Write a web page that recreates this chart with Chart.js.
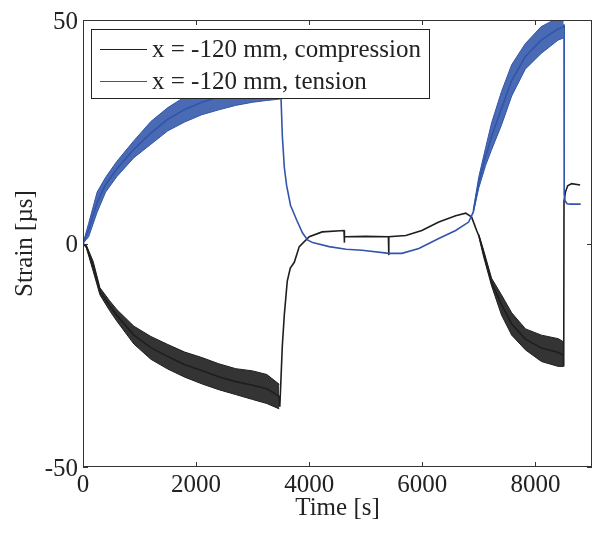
<!DOCTYPE html>
<html><head><meta charset="utf-8">
<script src="https://cdn.jsdelivr.net/npm/chart.js@4.4.0/dist/chart.umd.min.js"></script>
<style>html,body{margin:0;padding:0;background:#fff}#wrap{width:596px;height:534px}</style>
</head><body><div id="wrap"><canvas id="c" width="596" height="534"></canvas></div>
<script>
// ---- data ----
const xTicks = [0, 2000, 4000, 6000, 8000];
const yTicks = [-50, 0, 50];
const xTitle = 'Time [s]';
const yTitle = 'Strain [µs]';
const seriesLabels = ['x = -120 mm, compression', 'x = -120 mm, tension'];

// compression (black) trace
const compT = [0,60,180,300,470,600,900,1200,1500,1800,2100,2400,2700,3000,3250,3470,3480,3490,3524,3560,3612,3665,3736,3824,4000,4229,4615,4620,4625,5000,5400,5405,5410,5709,5991,6291,6590,6767,6872,6960,7000,7084,7225,7400,7580,7824,8106,8405,8495,8500,8505,8530,8570,8640,8790];
const compV = [0,-0.7,-5.1,-10.7,-13.9,-16.1,-20.5,-23.3,-25.3,-27.1,-28.4,-29.8,-30.9,-31.7,-32.5,-34.2,-36.5,-33.5,-23,-15.9,-8.4,-5.5,-4.2,-0.7,1.5,2.6,2.9,0.2,1.5,1.6,1.5,-2.6,1.5,1.8,2.9,4.8,6.2,6.8,5.9,2.9,1.7,-2.2,-8.7,-13.7,-18,-21.4,-23.4,-24.4,-25,-27.5,9.5,11.5,12.9,13.4,13.1];
// compression noise band (envelopes)
const compBand1T = [0,60,180,300,470,600,900,1200,1500,1800,2100,2400,2700,3000,3250,3470];
const compBand1Hi = [0,-0.4,-4,-9.9,-12.8,-14.8,-18.5,-20.8,-22.6,-24.3,-25.5,-26.9,-28,-28.5,-29.3,-31.5];
const compBand1Lo = [0,-1,-6.2,-11.5,-15,-17.4,-22.5,-25.9,-28.1,-29.9,-31.4,-32.7,-33.8,-34.9,-35.8,-37];
const compBand2T = [7000,7084,7225,7400,7580,7824,8106,8405,8495];
const compBand2Hi = [2,-1.5,-7.8,-11.5,-15.5,-19.1,-20.5,-21.3,-22];
const compBand2Lo = [1.5,-3,-9.5,-16,-20.5,-23.8,-26.4,-27.5,-27.5];

// tension (blue) trace
const tensT = [0,100,250,400,600,900,1200,1500,1800,2100,2400,2700,3000,3250,3480,3500,3525,3560,3600,3670,3780,3880,3970,4060,4352,4652,4934,5410,5639,5938,6291,6590,6819,6900,7000,7120,7225,7400,7580,7820,8100,8400,8500,8505,8508,8525,8560,8620,8800];
const tensV = [0,3,9.2,13.2,16.7,21.1,24.7,27.8,30,31.6,32.8,33.8,34.5,35,35.2,33,24,17,13,8.5,5.2,2.4,0.8,0.2,-0.7,-1.3,-1.5,-2.2,-2.2,-1.1,1.1,2.9,4.8,7,13.8,19.5,24,30.2,36.5,41.8,45.5,48,48.5,49,11,9.5,8.9,8.8,8.8];
const tensBand1T = [0,100,250,400,600,900,1200,1500,1800,2100,2400,2700,3000,3250,3480];
const tensBand1Hi = [0,4.5,11.5,14.8,18.4,23,27.3,30.4,32.8,34.5,35.8,36.8,37.5,38,38];
const tensBand1Lo = [0,1.5,7,11.5,15,19.2,22.2,25.2,27.2,28.8,29.9,30.9,31.6,32,32.3];
const tensBand2T = [6900,7000,7120,7225,7400,7580,7820,8100,8400,8500];
const tensBand2Hi = [7.5,15,21.5,27,34,40,44.7,48.5,50.5,51];
const tensBand2Lo = [6.8,12.5,17.5,21,26.5,33,39,42.5,45.5,46];

// ---- styling ----
const BLACK = '#1e1e1e';
const BLUE = '#3155aa';
const BLACK_FILL = 'rgba(30,30,30,0.9)';
const BLUE_FILL = 'rgba(49,85,170,0.88)';
const FONT = 'Liberation Serif';
const TEXT = '#222';

const pts = (t, v) => t.map((x, i) => ({x, y: v[i]}));

function band(t, lo, hi, col, fillCol, ord) {
  return [
    {label: '_', data: pts(t, lo), borderColor: col, borderWidth: 1, pointRadius: 0, fill: false, order: ord, tension: 0},
    {label: '_', data: pts(t, hi), borderColor: col, borderWidth: 1, pointRadius: 0, fill: '-1', backgroundColor: fillCol, order: ord, tension: 0}
  ];
}

const datasets = [
  ...band(compBand1T, compBand1Lo, compBand1Hi, BLACK, BLACK_FILL, 4),
  ...band(compBand2T, compBand2Lo, compBand2Hi, BLACK, BLACK_FILL, 4),
  {label: seriesLabels[0], data: pts(compT, compV), borderColor: BLACK, borderWidth: 1.6, pointRadius: 0, fill: false, order: 3, tension: 0},
  ...band(tensBand1T, tensBand1Lo, tensBand1Hi, BLUE, BLUE_FILL, 2),
  ...band(tensBand2T, tensBand2Lo, tensBand2Hi, BLUE, BLUE_FILL, 2),
  {label: seriesLabels[1], data: pts(tensT, tensV), borderColor: BLUE, borderWidth: 1.6, pointRadius: 0, fill: false, order: 1, tension: 0}
];

const framePlugin = {
  id: 'frame',
  afterDatasetsDraw(chart) {
    const ctx = chart.ctx, a = chart.chartArea;
    const xs = chart.scales.x, ys = chart.scales.y;
    ctx.save();
    ctx.strokeStyle = '#333';
    ctx.lineWidth = 1;
    ctx.strokeRect(Math.round(a.left) + 0.5, Math.round(a.top) + 0.5, Math.round(a.right - a.left) - 1, Math.round(a.bottom - a.top) - 1);
    const L = 5;
    ctx.beginPath();
    xs.ticks.forEach(tk => {
      const px = Math.round(xs.getPixelForValue(tk.value)) + 0.5;
      ctx.moveTo(px, a.bottom); ctx.lineTo(px, a.bottom - L);
      ctx.moveTo(px, a.top); ctx.lineTo(px, a.top + L);
    });
    ys.ticks.forEach(tk => {
      const py = Math.round(ys.getPixelForValue(tk.value)) + 0.5;
      ctx.moveTo(a.left, py); ctx.lineTo(a.left + L, py);
      ctx.moveTo(a.right, py); ctx.lineTo(a.right - L, py);
    });
    ctx.stroke();

    // legend box
    const bx = a.left + 8, by = a.top + 9, bw = 338, bh = 69;
    ctx.fillStyle = '#fff';
    ctx.fillRect(bx, by, bw, bh);
    ctx.strokeStyle = '#222';
    ctx.strokeRect(bx + 0.5, by + 0.5, bw, bh);
    const rows = [{c: BLACK, t: seriesLabels[0], y: by + 20}, {c: BLUE, t: seriesLabels[1], y: by + 52}];
    ctx.font = '25px "' + FONT + '"';
    ctx.textBaseline = 'middle';
    ctx.textAlign = 'left';
    rows.forEach(r => {
      ctx.strokeStyle = r.c;
      ctx.lineWidth = 1.2;
      ctx.beginPath();
      ctx.moveTo(bx + 9, r.y + 0.5); ctx.lineTo(bx + 56, r.y + 0.5);
      ctx.stroke();
      ctx.fillStyle = TEXT;
      ctx.fillText(r.t, bx + 61, r.y + 1);
    });
    ctx.restore();
  }
};

new Chart(document.getElementById('c'), {
  type: 'line',
  data: {datasets},
  options: {
    responsive: false,
    animation: false,
    devicePixelRatio: 1,
    layout: {padding: {top: 13, right: 4, left: 0, bottom: 0}},
    plugins: {legend: {display: false}, tooltip: {enabled: false}},
    scales: {
      x: {
        type: 'linear', min: 0, max: 9000,
        afterFit: s => { s.height = 67; },
        afterBuildTicks: s => { s.ticks = xTicks.map(v => ({value: v})); },
        grid: {display: false, drawTicks: false},
        border: {display: false},
        ticks: {padding: 3, color: TEXT, font: {family: FONT, size: 25}, maxRotation: 0, includeBounds: false, callback: v => String(v)},
        title: {display: true, text: xTitle, color: TEXT, font: {family: FONT, size: 25}, padding: {top: 0, bottom: 11}}
      },
      y: {
        type: 'linear', min: -50, max: 50,
        afterFit: s => { s.width = 83; },
        afterBuildTicks: s => { s.ticks = yTicks.map(v => ({value: v})); },
        grid: {display: false, drawTicks: false},
        border: {display: false},
        ticks: {padding: 5, labelOffset: 2, color: TEXT, font: {family: FONT, size: 25}, includeBounds: false, callback: v => String(v)},
        title: {display: true, text: yTitle, color: TEXT, font: {family: FONT, size: 25}, padding: {top: 10, bottom: 0}}
      }
    }
  },
  plugins: [framePlugin]
});
</script></body></html>
